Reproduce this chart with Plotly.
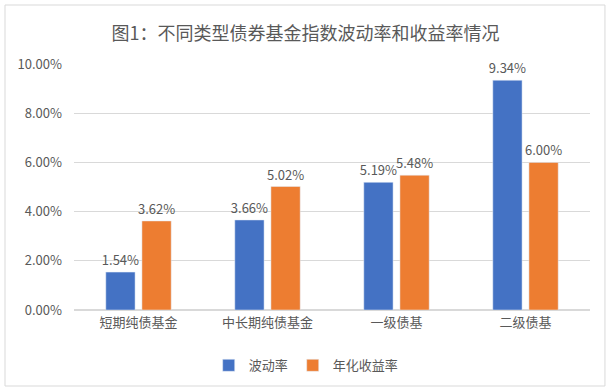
import plotly.graph_objects as go

categories = ["短期纯债基金", "中长期纯债基金", "一级债基", "二级债基"]
volatility = [0.0154, 0.0366, 0.0519, 0.0934]
annual_return = [0.0362, 0.0502, 0.0548, 0.0600]
series_names = ["波动率", "年化收益率"]
title_text = "图1：不同类型债券基金指数波动率和收益率情况"

font_family = "Noto Sans CJK SC, Microsoft YaHei, sans-serif"
gray = "#595959"

fig = go.Figure()
fig.add_trace(go.Bar(
    x=categories, y=volatility, name=series_names[0],
    marker_color="#4472C4",
    text=[f"{v*100:.2f}%" for v in volatility], textposition="outside",
    constraintext="none",
    textfont=dict(size=13, color=gray, family=font_family), cliponaxis=False,
))
fig.add_trace(go.Bar(
    x=categories, y=annual_return, name=series_names[1],
    marker_color="#ED7D31",
    text=[f"{v*100:.2f}%" for v in annual_return], textposition="outside",
    constraintext="none",
    textfont=dict(size=13, color=gray, family=font_family), cliponaxis=False,
))

fig.update_layout(
    width=611, height=392,
    margin=dict(l=74, r=21, t=64, b=82),
    paper_bgcolor="white", plot_bgcolor="white",
    font=dict(family=font_family, color=gray, size=13),
    title=dict(text=title_text, x=0.5, xanchor="center", y=0.915, yanchor="middle",
               font=dict(size=18, color=gray, family=font_family)),
    barmode="group", bargap=0.44, bargroupgap=0.19,
    showlegend=True,
    legend=dict(orientation="h", x=0.45, xanchor="center", y=-0.225, yanchor="middle",
                font=dict(size=13, color=gray), itemwidth=30, traceorder="normal"),
    yaxis=dict(range=[0, 0.10], dtick=0.02, tickformat=".2%", showgrid=True,
               gridcolor="#D9D9D9", gridwidth=1, zeroline=True, zerolinecolor="#D9D9D9",
               showline=False, ticks="", tickfont=dict(size=13, color=gray), ticklabelstandoff=11),
    xaxis=dict(showline=True, linecolor="#D9D9D9", ticks="", tickfont=dict(size=13, color=gray)),
    shapes=[dict(type="rect", xref="paper", yref="paper",
                 x0=-0.1337, x1=1.029, y0=-0.309, y1=1.2398,
                 line=dict(color="#D9D9D9", width=1), fillcolor="rgba(0,0,0,0)", layer="below")],
)

fig.write_html("out.html", config={"displayModeBar": False},
               post_script="document.body.style.margin='0';document.body.style.overflow='hidden';")
